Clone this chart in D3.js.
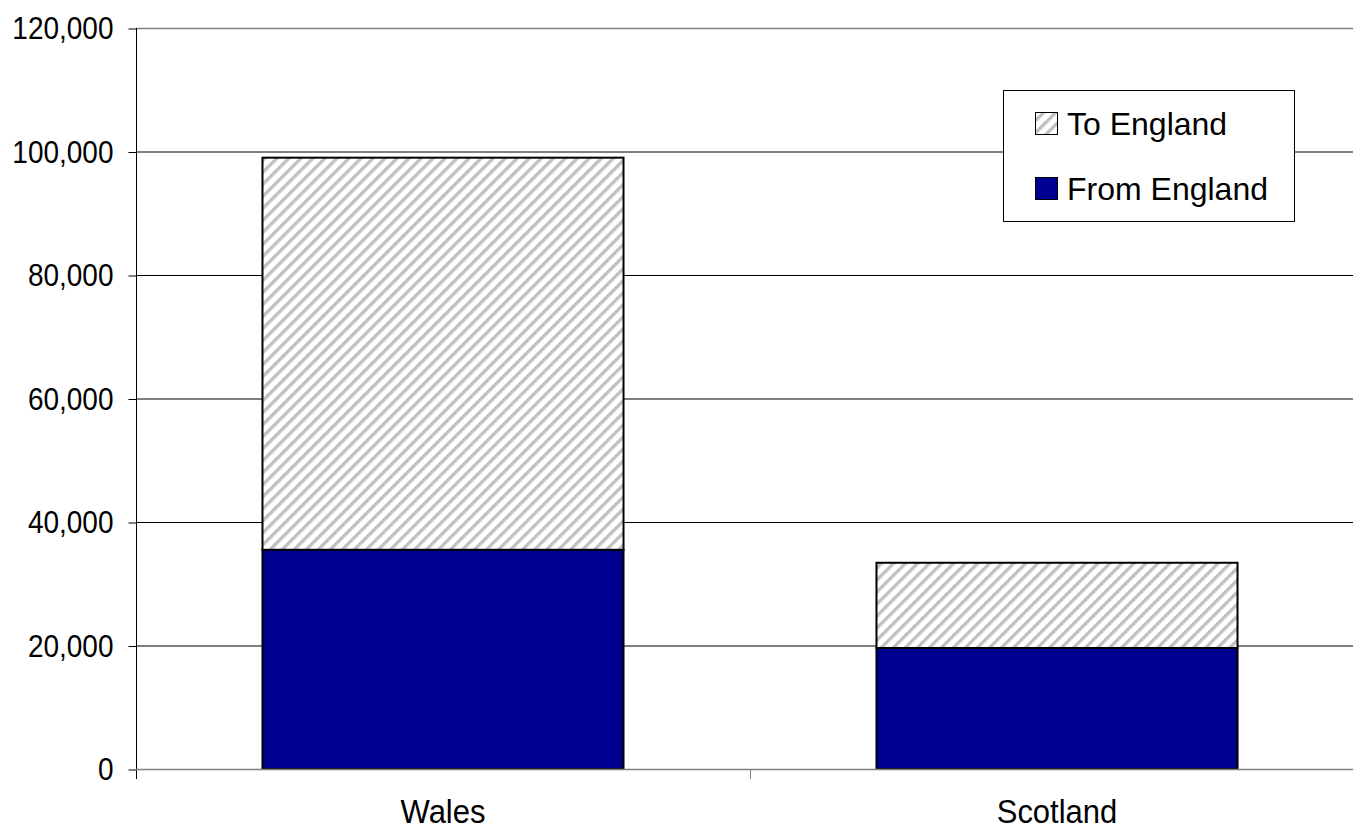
<!DOCTYPE html>
<html><head><meta charset="utf-8">
<script src="https://cdn.jsdelivr.net/npm/d3@7"></script>
<style>html,body{margin:0;padding:0;background:#fff;}svg{display:block;}</style>
</head><body>
<script>
const categories = ["Wales", "Scotland"];
const fromEngland = [35500, 19600];
const toEngland = [63500, 13800];
const seriesNames = ["To England", "From England"];
const yTicks = [0, 20000, 40000, 60000, 80000, 100000, 120000];

const W = 1353, H = 830;
const m = {left: 136, right: 1364, top: 28, bottom: 769};
const FONT = "'Liberation Sans', Arial, sans-serif";
const svg = d3.select("body").append("svg").attr("width", W).attr("height", H)
  .style("font-family", FONT);

const P = 8.5;
const defs = svg.append("defs");
const pat = defs.append("pattern").attr("id", "hatch").attr("patternUnits", "userSpaceOnUse")
  .attr("width", P).attr("height", P).attr("patternTransform", "rotate(45)");
pat.append("rect").attr("width", P).attr("height", P).attr("fill", "#fff");
pat.append("rect").attr("x", 0).attr("y", 0).attr("width", 3.3).attr("height", P).attr("fill", "#c0c0c0");

const x = d3.scaleBand().domain(categories).range([m.left, m.right]).paddingInner(0.412).paddingOuter(0.206);
const y = d3.scaleLinear().domain([0, 120000]).range([m.bottom, m.top]);

// gridlines
svg.append("g").selectAll("line").data(yTicks.filter(d => d > 0 && d < 120000)).join("line")
  .attr("x1", m.left).attr("x2", W).attr("y1", d => y(d) + 0.5).attr("y2", d => y(d) + 0.5)
  .attr("stroke", "#000").attr("stroke-width", 1);
svg.append("line").attr("x1", m.left).attr("x2", W).attr("y1", y(120000) + 0.5).attr("y2", y(120000) + 0.5)
  .attr("stroke", "#808080").attr("stroke-width", 1.5);

// y axis
const yAxis = d3.axisLeft(y).tickValues(yTicks).tickSize(8).tickPadding(15).tickFormat(d3.format(","));
const gy = svg.append("g").attr("transform", `translate(${m.left + 0.5},0.5)`).call(yAxis);
gy.select(".domain").remove();
gy.selectAll(".tick line").attr("stroke", "#000");
gy.selectAll(".tick text").attr("font-size", 28).attr("fill", "#000").attr("font-family", FONT)
  .attr("dy", null).attr("x", null)
  .attr("transform", "translate(-23,10) scale(1,1.1)");
svg.append("line").attr("x1", m.left + 0.5).attr("x2", m.left + 0.5).attr("y1", m.top).attr("y2", m.bottom + 10)
  .attr("stroke", "#000").attr("stroke-width", 1);

// bars
const stack = categories.map((c, i) => ({c, from: fromEngland[i], to: toEngland[i]}));
const bars = svg.append("g");
bars.selectAll("rect.from").data(stack).join("rect").attr("class", "from")
  .attr("x", d => x(d.c)).attr("width", x.bandwidth())
  .attr("y", d => y(d.from)).attr("height", d => y(0) - y(d.from))
  .attr("fill", "#000090").attr("stroke", "#000").attr("stroke-width", 2);
bars.selectAll("rect.to").data(stack).join("rect").attr("class", "to")
  .attr("x", d => x(d.c)).attr("width", x.bandwidth())
  .attr("y", d => y(d.from + d.to)).attr("height", d => y(d.from) - y(d.from + d.to))
  .attr("fill", "url(#hatch)").attr("stroke", "#000").attr("stroke-width", 2);

// x axis
svg.append("line").attr("x1", m.left).attr("x2", W).attr("y1", m.bottom + 0.5).attr("y2", m.bottom + 0.5)
  .attr("stroke", "#808080").attr("stroke-width", 1.5);
svg.append("g").selectAll("line").data([x.step()]).join("line")
  .attr("x1", d => m.left + d + 0.5).attr("x2", d => m.left + d + 0.5).attr("y1", m.bottom).attr("y2", m.bottom + 10)
  .attr("stroke", "#808080").attr("stroke-width", 1);
svg.append("g").selectAll("text").data(categories).join("text")
  .attr("transform", d => `translate(${x(d) + x.bandwidth() / 2},822.5) scale(1,1.05)`)
  .attr("text-anchor", "middle")
  .attr("font-size", 31).attr("fill", "#000").text(d => d);

// legend
const lg = svg.append("g");
lg.append("rect").attr("x", 1003.5).attr("y", 90.5).attr("width", 291).attr("height", 131)
  .attr("fill", "#fff").attr("stroke", "#000").attr("stroke-width", 1);
const fills = ["url(#hatch)", "#000090"];
const rows = lg.selectAll("g").data(seriesNames).join("g")
  .attr("transform", (d, i) => `translate(0,${i * 65})`);
rows.append("rect").attr("x", 1035.5).attr("y", 112.5).attr("width", 22).attr("height", 22)
  .attr("fill", (d, i) => fills[i]).attr("stroke", "#000").attr("stroke-width", 1);
rows.append("text").attr("x", 1067).attr("y", 135).attr("font-size", 32).attr("fill", "#000").text(d => d);
</script>
</body></html>
